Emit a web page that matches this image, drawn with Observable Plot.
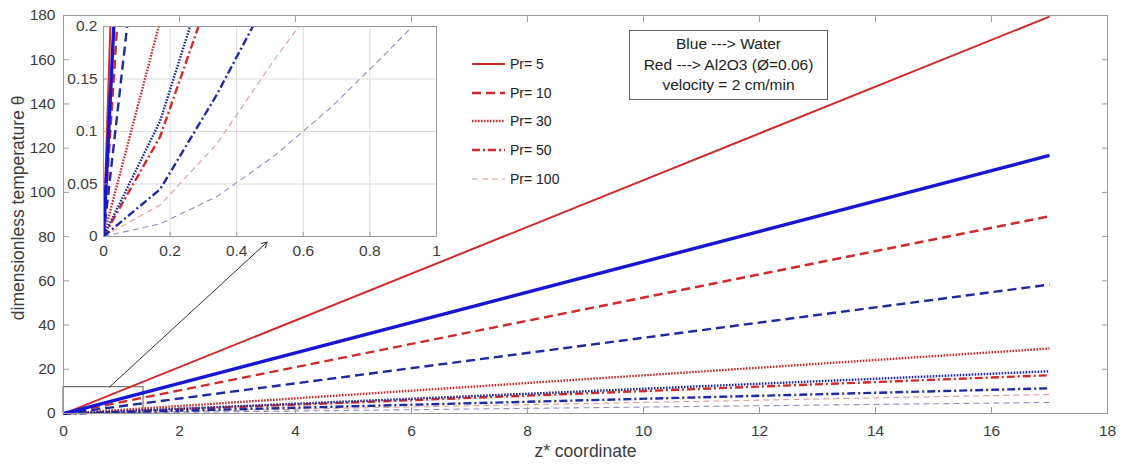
<!DOCTYPE html>
<html>
<head>
<meta charset="utf-8">
<script src="https://cdn.jsdelivr.net/npm/d3@7"></script>
<script src="https://cdn.jsdelivr.net/npm/@observablehq/plot@0.6"></script>
<style>
  html, body { margin: 0; padding: 0; background: #fff; }
  #chart { position: relative; width: 1121px; height: 464px; font-family: "Liberation Sans", Arial, sans-serif; }
  #chart > div { position: absolute; }
  #legend { left: 470px; top: 50px; font-size: 14px; color: #222; }
  #legend .row { display: flex; align-items: center; height: 28.6px; }
  #legend svg { display: block; margin-right: 4px; }
  #note { left: 629px; top: 30px; width: 199px; height: 70px; border: 1px solid #666; box-sizing: border-box;
          font-size: 15.5px; color: #222; text-align: center; line-height: 20.5px; padding-top: 3px; background: #fff; }
</style>
</head>
<body>
<div id="chart">
  <div id="main"></div>
  <div id="inset" style="left:0;top:0"></div>
  <div id="legend"></div>
  <div id="note">Blue ---&gt; Water<br>Red ---&gt; Al2O3 (Ø=0.06)<br>velocity = 2 cm/min</div>
</div>
<script>
// Axial positions where the temperature is sampled (null = not resolvable)
const z = [0, 0.17, 0.34, 0.51, 0.68, 0.85, 1.02, 17];

// Prandtl numbers
const prandtl = [5, 10, 30, 50, 100];

// Dimensionless temperature θ, water (blue)
const waterPr5   = [0, 1.10, null, null, null, null, null, 116.7];
const waterPr10  = [0, 0.48, null, null, null, null, null, 58.3];
const waterPr30  = [0, 0.11, 0.28, null, null, null, null, 19.1];
const waterPr50  = [0, 0.045, 0.135, 0.237, null, null, null, 11.4];
const waterPr100 = [0, 0.012, 0.038, 0.076, 0.122, 0.175, 0.23, 5.0];

// Dimensionless temperature θ, Al2O3 nanofluid (red)
const aluminaPr5   = [0, 1.65, null, null, null, null, null, 179.5];
const aluminaPr10  = [0, 0.83, null, null, null, null, null, 89.2];
const aluminaPr30  = [0, 0.205, null, null, null, null, null, 29.4];
const aluminaPr50  = [0, 0.095, 0.25, null, null, null, null, 17.3];
const aluminaPr100 = [0, 0.03, 0.088, 0.167, 0.24, null, null, 8.6];

// Axis ticks
const xTicks = [0, 2, 4, 6, 8, 10, 12, 14, 16, 18];
const yTicks = [0, 20, 40, 60, 80, 100, 120, 140, 160, 180];
const insetXTicks = [0, 0.2, 0.4, 0.6, 0.8, 1];
const insetYTicks = [0, 0.05, 0.1, 0.15, 0.2];

// Zoomed region marker and pointer (data units of the main axes)
const zoomBox = {x1: 0, x2: 1.38, y1: 0, y2: 11.9};
const pointer = {x1: 0.79, y1: 11.9, x2: 3.51, y2: 77.5};

// ---- line styles ----
const RED = "#d12a2a";
const styleByPr = {
  5:   {dash: null,      width: 2.0},
  10:  {dash: "9,5",     width: 2.4},
  30:  {dash: "1.6,1.4", width: 2.4},
  50:  {dash: "8,3,2,3", width: 2.4},
  100: {dash: "6,4",     width: 1.1}
};
function colorFor(material, pr) {
  if (material === "water") {
    if (pr === 5) return "#1616d4";
    if (pr === 100) return "#8c8fc4";
    return "#1f2a9e";
  }
  return pr === 100 ? "#dd9e98" : RED;
}
function widthFor(material, pr) {
  if (material === "water" && pr === 5) return 3.4;
  return styleByPr[pr].width;
}

const seriesValues = {
  water:   [waterPr5, waterPr10, waterPr30, waterPr50, waterPr100],
  alumina: [aluminaPr5, aluminaPr10, aluminaPr30, aluminaPr50, aluminaPr100]
};
const series = [];
for (const material of ["water", "alumina"]) {
  seriesValues[material].forEach((vals, i) => {
    const pts = z.map((zz, j) => ({z: zz, theta: vals[j]})).filter(d => d.theta != null);
    series.push({material, pr: prandtl[i], pts});
  });
}
// draw lower-Pr lines last so the steep ones sit on top
const drawOrder = [...series].sort((a, b) => b.pr - a.pr || (a.material === "water" ? 1 : -1));

function lineMarks(clip) {
  return drawOrder.map(s => Plot.line(s.pts, {
    x: "z", y: "theta",
    stroke: colorFor(s.material, s.pr),
    strokeWidth: widthFor(s.material, s.pr),
    strokeDasharray: styleByPr[s.pr].dash,
    strokeLinejoin: "miter",
    strokeLinecap: "butt",
    clip
  }));
}

const AXIS = "#9b9b9b";
const TEXT = "#3c3c3c";
const font = {fontFamily: "'Liberation Sans', Arial, sans-serif", color: TEXT, background: "transparent"};
const plain = d => String(d);

// ---- main axes ----
const main = Plot.plot({
  width: 1121, height: 464,
  marginLeft: 63, marginRight: 14, marginTop: 15, marginBottom: 51,
  style: {...font, fontSize: "15.5px"},
  x: {domain: [0, 18]},
  y: {domain: [0, 180]},
  marks: [
    Plot.rect([zoomBox], {x1: "x1", x2: "x2", y1: "y1", y2: "y2", stroke: "#555", strokeWidth: 1, fill: "none"}),
    Plot.arrow([pointer], {x1: "x1", y1: "y1", x2: "x2", y2: "y2", stroke: "#333", strokeWidth: 1, headLength: 9}),
    ...lineMarks(false),
    Plot.frame({stroke: AXIS}),
    Plot.axisX(xTicks, {anchor: "bottom", tickSize: 0, tickPadding: 11, tickFormat: plain, label: null}),
    Plot.axisX(xTicks, {anchor: "bottom", tickSize: 6, dy: -6, text: null, label: null, stroke: AXIS}),
    Plot.axisX(xTicks, {anchor: "top", tickSize: 6, dy: 6, text: null, label: null, stroke: AXIS}),
    Plot.axisY(yTicks, {anchor: "left", tickSize: 0, tickPadding: 8, tickFormat: plain, label: null}),
    Plot.axisY(yTicks, {anchor: "left", tickSize: 6, dx: 6, text: null, label: null, stroke: AXIS}),
    Plot.axisY(yTicks, {anchor: "right", tickSize: 6, dx: -6, text: null, label: null, stroke: AXIS}),
    // axis titles
    Plot.text(["z* coordinate"], {x: 9, frameAnchor: "bottom", textAnchor: "middle", dy: 43, fontSize: 17.5, fill: TEXT}),
    Plot.text(["dimensionless temperature θ"], {y: 93, frameAnchor: "left", textAnchor: "middle", dx: -45, rotate: -90, fontSize: 17.5, fill: TEXT})
  ]
});
document.getElementById("main").append(main);

// ---- inset: close-up near the inlet ----
const inset = Plot.plot({
  width: 460, height: 262,
  marginLeft: 103, marginRight: 24, marginTop: 26, marginBottom: 26,
  style: {...font, fontSize: "15.5px"},
  x: {domain: [0, 1]},
  y: {domain: [0, 0.2]},
  marks: [
    Plot.frame({fill: "white", stroke: null}),
    Plot.gridX(insetXTicks, {stroke: "#dcdcdc", strokeOpacity: 1}),
    Plot.gridY(insetYTicks, {stroke: "#dcdcdc", strokeOpacity: 1}),
    ...lineMarks(true),
    Plot.frame({stroke: AXIS}),
    Plot.axisX(insetXTicks, {anchor: "bottom", tickSize: 0, tickPadding: 8, tickFormat: plain, label: null}),
    Plot.axisX(insetXTicks, {anchor: "bottom", tickSize: 4, dy: -4, text: null, label: null, stroke: AXIS}),
    Plot.axisY(insetYTicks, {anchor: "left", tickSize: 0, tickPadding: 6, tickFormat: plain, label: null}),
    Plot.axisY(insetYTicks, {anchor: "left", tickSize: 4, dx: 4, text: null, label: null, stroke: AXIS})
  ]
});
document.getElementById("inset").append(inset);

// ---- legend (Al2O3 line styles) ----
const legend = document.getElementById("legend");
for (const pr of prandtl) {
  const st = styleByPr[pr];
  const row = document.createElement("div");
  row.className = "row";
  row.innerHTML =
    `<svg width="36" height="10"><line x1="2" y1="5" x2="35" y2="5" stroke="${colorFor("alumina", pr)}" ` +
    `stroke-width="${st.width}" ${st.dash ? `stroke-dasharray="${st.dash}"` : ""}/></svg><span>Pr= ${pr}</span>`;
  legend.append(row);
}
</script>
</body>
</html>
